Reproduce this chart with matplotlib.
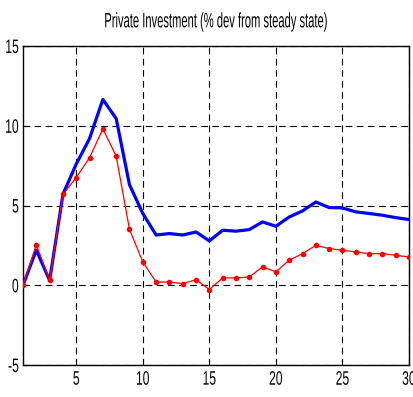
import matplotlib
matplotlib.use("Agg")
import matplotlib.pyplot as plt
from matplotlib import font_manager
from matplotlib.patheffects import AbstractPathEffect
from matplotlib.transforms import Affine2D

periods = list(range(1, 31))
blue_vals = [0.0, 2.2, 0.3, 5.7, 7.6, 9.2, 11.65, 10.45, 6.3, 4.5,
             3.15, 3.24, 3.15, 3.34, 2.78, 3.45, 3.39, 3.49, 3.97, 3.7,
             4.28, 4.66, 5.22, 4.87, 4.85, 4.6, 4.5, 4.39, 4.24, 4.12]
red_vals = [0.0, 2.55, 0.3, 5.7, 6.75, 8.0, 9.8, 8.1, 3.5, 1.46,
            0.2, 0.2, 0.1, 0.35, -0.27, 0.46, 0.46, 0.52, 1.15, 0.84,
            1.57, 1.98, 2.5, 2.3, 2.19, 2.09, 1.98, 1.98, 1.88, 1.77]
xticks = [5, 10, 15, 20, 25, 30]
yticks = [-5, 0, 5, 10, 15]
title = "Private Investment (% dev from steady state)"

names = {f.name for f in font_manager.fontManager.ttflist}
fam = [f for f in ["Liberation Sans Narrow", "Liberation Sans", "DejaVu Sans"] if f in names]
plt.rcParams['font.family'] = fam
plt.rcParams['axes.unicode_minus'] = False


class Stretch(AbstractPathEffect):
    """Stretch text glyphs vertically (reference uses a tall, narrow face)."""
    def __init__(self, sy=1.6, anchor='center'):
        super().__init__()
        self.sy = sy
        self.anchor = anchor

    def draw_path(self, renderer, gc, tpath, affine, rgbFace=None):
        ext = tpath.get_extents(affine)
        if self.anchor == 'center':
            cy = (ext.y0 + ext.y1) / 2
        elif self.anchor == 'top':
            cy = ext.y1
        else:
            cy = ext.y0
        t = affine + Affine2D().translate(0, -cy).scale(1, self.sy).translate(0, cy)
        renderer.draw_path(gc, tpath, t, rgbFace)


TICK_FS = 8.7
TICK_SY = 1.0 / 0.62

fig = plt.figure(figsize=(4.14, 3.97), dpi=100)
ax = fig.add_axes([23/414, 32/397, 386/414, 319/397])
ax.plot(periods, blue_vals, color='#0000ff', lw=2.3, zorder=3)
ax.plot(periods, red_vals, color='#ff0000', lw=0.9, marker='o', ms=4,
        markeredgewidth=0, zorder=4)
ax.set_xlim(1, 30)
ax.set_ylim(-5, 15)
ax.set_xticks(xticks)
ax.set_yticks(yticks)
ax.grid(True, color='black', linestyle=(0, (6, 4)), linewidth=0.8)
ax.tick_params(direction='in', labelsize=TICK_FS, length=4)
ax.tick_params(axis='x', pad=4)
ax.tick_params(axis='y', pad=3)
for s in ax.spines.values():
    s.set_linewidth(1.0)
t = ax.set_title(title, fontsize=15, pad=12)

fig.canvas.draw()
r = fig.canvas.get_renderer()
w = t.get_window_extent(r).width
ratio = 224.0 / w
t.set_fontsize(15 * ratio)
t.set_path_effects([Stretch(1.0 / ratio, 'bottom')])
for lab in ax.get_xticklabels():
    lab.set_path_effects([Stretch(TICK_SY, 'top')])
for lab in ax.get_yticklabels():
    lab.set_path_effects([Stretch(TICK_SY, 'center')])

fig.savefig("out.png", dpi=100)
